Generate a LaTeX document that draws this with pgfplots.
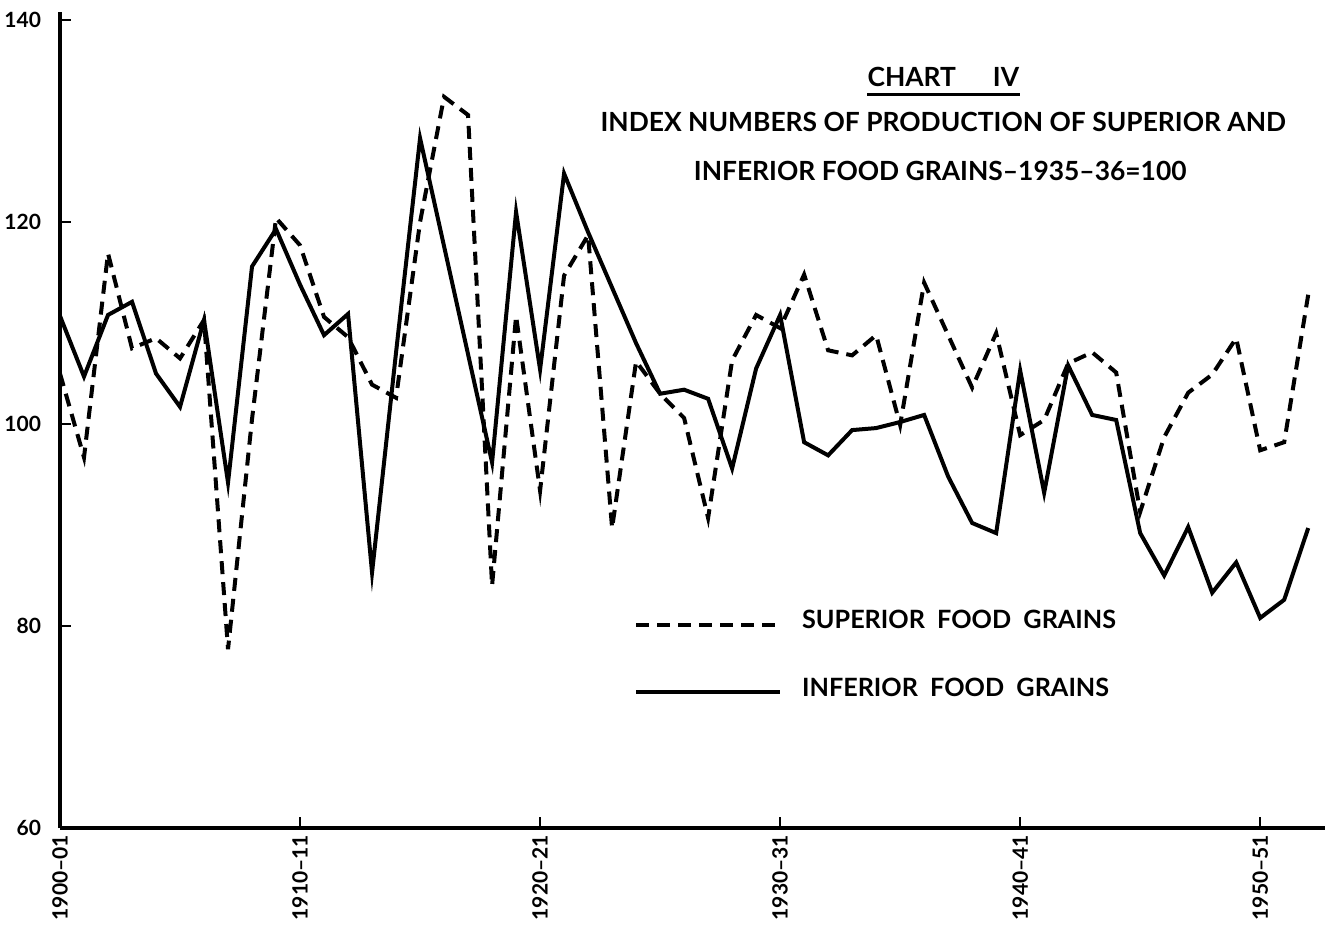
\documentclass[border=0pt]{standalone}
\usepackage{fontspec}
\setmainfont{Lato}
\usepackage{pgfplots}
\usepackage{pgfplotstable}
\pgfplotsset{compat=1.18}

\pgfplotstableread{
year val
1900 105.0
1901 96.7
1902 116.9
1903 107.5
1904 108.5
1905 106.5
1906 110.3
1907 77.7
1908 100.5
1909 120.4
1910 117.7
1911 110.6
1912 108.6
1913 103.9
1914 102.6
1915 120.0
1916 132.4
1917 130.6
1918 84.0
1919 110.7
1920 93.4
1921 114.7
1922 118.7
1923 89.7
1924 106.2
1925 103.0
1926 100.6
1927 90.7
1928 106.3
1929 110.8
1930 109.5
1931 114.8
1932 107.3
1933 106.8
1934 108.8
1935 99.9
1936 114.0
1937 108.8
1938 103.6
1939 109.0
1940 98.9
1941 100.4
1942 106.0
1943 107.1
1944 105.1
1945 91.3
1946 98.7
1947 103.1
1948 104.9
1949 108.5
1950 97.4
1951 98.2
1952 112.8
}\superior

\pgfplotstableread{
year val
1900 110.7
1901 104.7
1902 110.8
1903 112.1
1904 105.0
1905 101.7
1906 110.3
1907 94.2
1908 115.6
1909 119.3
1910 113.8
1911 108.8
1912 110.9
1913 85.3
1914 107.1
1915 128.3
1916 117.6
1917 106.9
1918 96.2
1919 121.0
1920 105.4
1921 124.8
1922 119.0
1923 113.5
1924 108.0
1925 103.0
1926 103.4
1927 102.5
1928 95.6
1929 105.5
1930 110.8
1931 98.2
1932 96.9
1933 99.4
1934 99.6
1935 100.2
1936 100.9
1937 94.8
1938 90.2
1939 89.2
1940 105.3
1941 93.2
1942 105.8
1943 100.9
1944 100.4
1945 89.2
1946 85.0
1947 89.8
1948 83.3
1949 86.3
1950 80.8
1951 82.6
1952 89.7
}\inferior

\begin{document}
\begin{tikzpicture}
\useasboundingbox (-30pt,-53pt) rectangle (634.5pt,414pt);
\begin{axis}[
  at={(0,0)}, anchor=south west,
  scale only axis, width=632.5pt, height=408pt,
  xmin=1900, xmax=1952.7, ymin=60, ymax=140.8,
  axis x line=bottom, axis y line=left,
  axis line style={line width=1.9pt, -},
  tick style={line width=1.1pt, black},
  major tick length=5.5pt, tick align=inside,
  xtick={1900,1910,1920,1930,1940,1950},
  xticklabels={1900--01,1910--11,1920--21,1930--31,1940--41,1950--51},
  ytick={60,80,100,120,140},
  xticklabel style={rotate=90, anchor=east, font=\bfseries\fontsize{10.5}{12}\selectfont},
  yticklabel style={font=\bfseries\fontsize{10.5}{12}\selectfont, xshift=-6pt},
  /pgf/number format/assume math mode=true,
  clip=false,
  legend style={at={(axis cs:1923.9,82.0)}, anchor=north west, draw=none, fill=none,
    font=\bfseries\fontsize{12.6}{14}\selectfont, row sep=19pt, inner sep=0pt,
    nodes={inner sep=2pt}},
  legend cell align=left,
  legend image code/.code={\draw[#1] (0pt,-2pt) -- (72pt,-2pt);},
]
\addplot[black, line width=2pt, dash pattern=on 6.5pt off 4pt] table[x=year,y=val]{\superior};
\addlegendentry{\hspace{8pt}SUPERIOR\ \ FOOD\ \ GRAINS}
\addplot[black, line width=2pt] table[x=year,y=val]{\inferior};
\addlegendentry{\hspace{8pt}INFERIOR\ \ FOOD\ \ GRAINS}

\node[font=\bfseries\fontsize{13.2}{15}\selectfont, inner sep=0pt, anchor=base] (ct) at (axis cs:1936.8,133.4) {CHART\hspace{1.4em}IV};
\draw[line width=1.6pt] ([yshift=-4pt]ct.base west) -- ([yshift=-4pt]ct.base east);
\node[font=\bfseries\fontsize{13.2}{15}\selectfont] at (axis cs:1936.8,129.9) {INDEX NUMBERS OF PRODUCTION OF SUPERIOR AND};
\node[font=\bfseries\fontsize{13.2}{15}\selectfont] at (axis cs:1936.67,125.1) {INFERIOR FOOD GRAINS--1935--36=100};
\end{axis}
\end{tikzpicture}
\end{document}
